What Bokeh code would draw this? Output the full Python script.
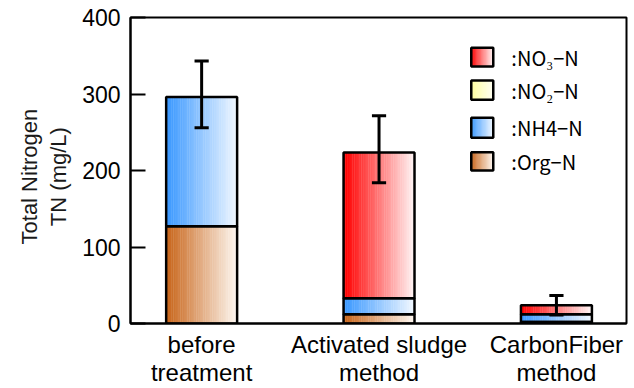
import numpy as np
from bokeh.plotting import figure
from bokeh.models import FixedTicker, ColumnDataSource
from bokeh.core.properties import value
from bokeh.embed import file_html
from bokeh.resources import INLINE

# ---- data ----
categories = ["before\ntreatment", "Activated sludge\nmethod", "CarbonFiber\nmethod"]
org_n = [127, 12, 2]
nh4_n = [169, 21, 10]
no2_n = [0, 0, 0]
no3_n = [0, 190.5, 12]
err_high = [343, 271.5, 36.5]
err_low = [256, 184, 11]
y_ticks = [0, 100, 200, 300, 400]
legend_labels = [":NO\u2083\u2212N", ":NO\u2082\u2212N", ":NH4\u2212N", ":Org\u2212N"]

# ---- styles ----
series_colors = {
    "org": ("#C8651A", "#FDF6EF"),
    "nh4": ("#3A98FF", "#F0F7FF"),
    "no2": ("#FFFF9C", "#FFFFF2"),
    "no3": ("#FF0000", "#FFF4F4"),
}
BAR_W = 0.4
NSTRIP = 40


def hex2rgb(h):
    h = h.lstrip("#")
    return np.array([int(h[i:i + 2], 16) for i in (0, 2, 4)], dtype=float)


def grad_colors(c0, c1, n):
    a, b = hex2rgb(c0), hex2rgb(c1)
    out = []
    for t in np.linspace(0, 1, n):
        c = a + (b - a) * t
        out.append("#%02x%02x%02x" % tuple(int(round(v)) for v in c))
    return out


p = figure(width=634, height=388, output_backend="svg", toolbar_location=None,
           x_range=(-0.401, 2.395), y_range=(0, 400),
           min_border_left=130, min_border_right=8, min_border_top=17, min_border_bottom=65)
p.grid.visible = False
p.outline_line_color = "black"
p.outline_line_width = 2
p.background_fill_color = "white"
p.border_fill_color = "white"

strips = dict(left=[], right=[], bottom=[], top=[], color=[])
outlines = dict(left=[], right=[], bottom=[], top=[])


def add_gradient_box(xc, w, y0, y1, key):
    cols = grad_colors(*series_colors[key], NSTRIP)
    edges = np.linspace(xc - w / 2, xc + w / 2, NSTRIP + 1)
    for i in range(NSTRIP):
        strips["left"].append(edges[i])
        strips["right"].append(edges[i + 1] + 0.002)
        strips["bottom"].append(y0)
        strips["top"].append(y1)
        strips["color"].append(cols[i])
    outlines["left"].append(xc - w / 2)
    outlines["right"].append(xc + w / 2)
    outlines["bottom"].append(y0)
    outlines["top"].append(y1)


xs = list(range(len(categories)))
for i, xc in enumerate(xs):
    base = 0.0
    for key, vals in (("org", org_n), ("nh4", nh4_n), ("no2", no2_n), ("no3", no3_n)):
        v = vals[i]
        if v > 0:
            add_gradient_box(xc, BAR_W, base, base + v, key)
            base += v

# legend swatches (layout in data units of the plot frame)
leg_x0, leg_x1 = 1.52, 1.644
leg_rows = [(336, 360.4), (292.4, 317.6), (242.7, 268.9), (200, 224)]
leg_keys = ["no3", "no2", "nh4", "org"]
for (y0, y1), key in zip(leg_rows, leg_keys):
    add_gradient_box((leg_x0 + leg_x1) / 2, leg_x1 - leg_x0, y0, y1, key)

p.quad(left="left", right="right", bottom="bottom", top="top", fill_color="color",
       line_color=None, source=ColumnDataSource(strips))
p.quad(left="left", right="right", bottom="bottom", top="top", fill_color=None,
       line_color="black", line_width=2.5, source=ColumnDataSource(outlines))

p.text(x=[1.746] * 4, y=[(a + b) / 2 for a, b in leg_rows], text=legend_labels,
       text_font=value("Noto Sans CJK JP"), text_font_size="20px",
       text_baseline="middle", text_align="left", text_color="black")

# error bars
cap = 0.04
p.segment(x0=xs, x1=xs, y0=err_low, y1=err_high, line_color="black", line_width=3)
p.segment(x0=[x - cap for x in xs], x1=[x + cap for x in xs], y0=err_high, y1=err_high,
          line_color="black", line_width=3)
p.segment(x0=[x - cap for x in xs], x1=[x + cap for x in xs], y0=err_low, y1=err_low,
          line_color="black", line_width=3)

# axes
p.yaxis.ticker = FixedTicker(ticks=y_ticks)
p.yaxis.major_tick_in = 15
p.yaxis.major_tick_out = 0
p.yaxis.minor_tick_line_color = None
p.yaxis.major_tick_line_width = 2
p.yaxis.axis_line_width = 2
p.yaxis.axis_line_color = "black"
p.yaxis.major_tick_line_color = "black"
p.yaxis.major_label_text_font = "Liberation Sans"
p.yaxis.major_label_text_font_size = "23px"
p.yaxis.major_label_text_color = "black"
p.yaxis.major_label_standoff = 10
p.yaxis.axis_label = "Total Nitrogen  \nTN (mg/L)  "
p.yaxis.axis_label_text_font = "Liberation Sans"
p.yaxis.axis_label_text_font_size = "22px"
p.yaxis.axis_label_text_font_style = "normal"
p.yaxis.axis_label_text_color = "#1a1a1a"
p.yaxis.axis_label_text_line_height = 1.15
p.yaxis.axis_label_standoff = 8

p.xaxis.ticker = FixedTicker(ticks=xs)
p.xaxis.major_label_overrides = {x: c for x, c in zip(xs, categories)}
p.xaxis.major_tick_in = 0
p.xaxis.major_tick_out = 0
p.xaxis.minor_tick_line_color = None
p.xaxis.axis_line_width = 2
p.xaxis.axis_line_color = "black"
p.xaxis.major_label_text_font = "Liberation Sans"
p.xaxis.major_label_text_font_size = "24px"
p.xaxis.major_label_text_color = "black"
p.xaxis.major_label_text_line_height = 1.05
p.xaxis.major_label_standoff = 7

open("out.html", "w").write(file_html(p, INLINE))
